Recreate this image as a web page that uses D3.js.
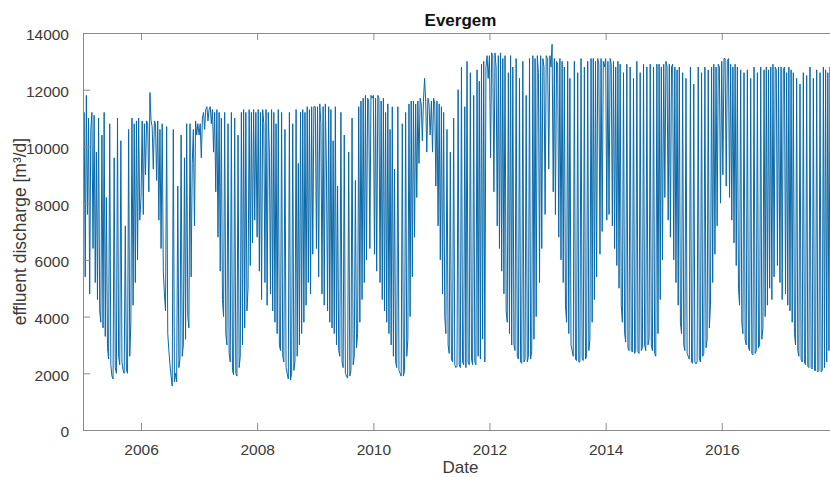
<!DOCTYPE html>
<html>
<head>
<meta charset="utf-8">
<script src="https://cdn.jsdelivr.net/npm/d3@7"></script>
<style>
  html, body { margin: 0; padding: 0; background: #fff; }
  svg { display: block; font-family: "Liberation Sans", Arial, Helvetica, sans-serif; }
</style>
</head>
<body>
<svg id="chart" width="830" height="477"></svg>
<script>
// Weekly effluent discharge at Evergem WWTP [m3/d], one array per calendar year (52 weeks each)
const flow2005 = [6200, 11200, 5400, 11800, 7600, 11000, 4800, 10600, 11200, 6400, 11100, 5200, 9800,
  4600, 11000, 4200, 3800, 10400, 3600, 11200, 3300, 8200,
  2900, 2500, 10800, 2300, 1900, 1800, 9600, 2200, 2000, 11000, 2600, 2300, 10200, 2400, 2100, 2000, 7200, 2100,
  2000, 10600, 2600, 3800, 11000, 4400, 10800, 5200, 10900, 6000, 11000, 7400];
const flow2006 = [8200, 10900, 7600, 10800, 9000, 10900, 10800, 8400, 11900, 10900, 10700, 9200, 10900,
  10800, 8800, 10900, 7400, 10600, 6400, 10800, 5600, 4800,
  4200, 10700, 3400, 2800, 2300, 1900, 1550, 10600, 1700, 2000, 1700, 8600, 2200, 2500, 10400, 2600, 3000, 9600,
  3200, 10800, 4000, 3600, 10800, 5400, 9400, 10600, 7200, 10900, 10400, 10800];
const flow2007 = [10400, 10800, 9600, 11000, 11200, 10600, 11300, 11400, 10900, 11300, 11400, 10800, 11300,
  9800, 11200, 8400, 11300, 6800, 11200, 5600, 11000, 4600,
  4000, 11200, 3400, 3000, 10800, 2700, 2400, 11200, 2100, 1950, 11000, 2000, 1900, 10400, 2200, 2600, 11200, 3000,
  11300, 3600, 11200, 4200, 5000, 11300, 5800, 11200, 6600, 11300, 7400, 11200];
const flow2008 = [6800, 11300, 5600, 11200, 4600, 11300, 10800, 5200, 11300, 4400, 11200, 9800, 4800,
  11300, 4200, 11200, 3800, 10800, 3400, 11300, 3000, 2800,
  11200, 2600, 2400, 10600, 2200, 2000, 1800, 11200, 1760, 2000, 10800, 2100, 2400, 11300, 2600, 9400, 3000, 11200,
  3400, 11300, 3800, 11200, 4400, 11400, 5200, 11300, 4800, 11400, 6200, 11400];
const flow2009 = [11400, 6400, 11400, 5400, 11500, 10800, 4800, 11400, 4400, 11500, 9200, 4200, 11400,
  3800, 11300, 3600, 10200, 3400, 11400, 3000, 8600, 2800,
  2600, 11200, 2400, 2200, 10400, 2000, 1900, 1830, 9800, 1900, 2100, 11000, 2300, 2600, 8800, 2900, 3400, 11400,
  3800, 11600, 4600, 11700, 5200, 11800, 6000, 11700, 11600, 6400, 11800, 11700];
const flow2010 = [11800, 6200, 11700, 5600, 11800, 11700, 5200, 11600, 4600, 11700, 4200, 11200, 3800,
  11500, 3400, 10600, 3000, 11400, 2600, 9200, 2400, 2200,
  11400, 2100, 2000, 1900, 10800, 1900, 2100, 11200, 2600, 3200, 11500, 4000, 11600, 5400, 11600, 6800, 11500, 8200,
  11600, 9400, 11700, 11500, 10200, 11600, 12400, 11600, 9800, 11700, 11500, 10400];
const flow2011 = [11600, 9800, 11700, 11500, 8600, 11600, 7200, 11500, 6000, 11400, 4800, 11200, 4000,
  3400, 10600, 3000, 2700, 9800, 2500, 2400, 11000, 2300,
  2200, 2250, 12000, 2300, 2200, 12800, 2400, 2300, 11400, 2200, 13000, 2400, 2300, 12600, 2500, 2300, 11800, 2400,
  2300, 12700, 2600, 12300, 2500, 12900, 3200, 13000, 2400, 12800, 13200, 12400];
const flow2012 = [13200, 9600, 13300, 13200, 8400, 13300, 12800, 7200, 13200, 6400, 13300, 5600, 13100,
  4800, 13200, 4200, 3800, 12600, 3400, 13200, 3000, 12800,
  3000, 2800, 13100, 2600, 2500, 12400, 2400, 2350, 13000, 2400, 2500, 11800, 2400, 2600, 13100, 2500, 2800, 13200,
  3200, 13100, 4000, 13200, 12600, 5200, 13200, 6400, 13100, 12800, 7600, 13200];
const flow2013 = [13100, 9200, 13200, 12800, 13600, 8400, 13100, 7600, 13000, 12900, 6800, 13100, 6000,
  13000, 5200, 12800, 4400, 3800, 13000, 3400, 12400, 3000,
  2800, 2600, 13000, 2500, 2450, 12600, 2400, 2400, 13100, 2500, 2450, 12800, 2500, 2600, 13000, 2800, 3200, 13100,
  3800, 13100, 4600, 13000, 5400, 13100, 12900, 6200, 13100, 7000, 13000, 12800];
const flow2014 = [13100, 7400, 13000, 7600, 13100, 12900, 7200, 13000, 6400, 12800, 5800, 13000, 5000,
  12900, 4400, 3800, 12600, 3400, 3100, 12900, 2900, 2800,
  12800, 2800, 2750, 12400, 2700, 2800, 13000, 2750, 2700, 12600, 2800, 2900, 12900, 3000, 2800, 12800, 3000, 3200,
  12900, 3000, 2800, 12800, 2700, 2600, 12900, 3400, 12900, 4600, 12800, 6000];
const flow2015 = [12900, 8200, 13000, 12800, 7400, 12900, 6800, 12800, 12900, 6000, 12800, 5200, 12700,
  4400, 12800, 3800, 3400, 12600, 3000, 2800, 12400, 2700,
  2600, 2500, 12800, 2400, 2350, 12200, 2400, 2330, 2400, 12800, 2500, 2400, 12600, 2600, 2700, 12800, 2900, 3200,
  12700, 3600, 4400, 12800, 5200, 12900, 6200, 12800, 7200, 12900, 12800, 8000];
const flow2016 = [13000, 9000, 13100, 13100, 8600, 13000, 13100, 8200, 12900, 7400, 12800, 6600, 12900,
  5800, 12800, 5000, 4400, 12700, 3800, 3400, 12600, 3200,
  3000, 12700, 2900, 2800, 12400, 2700, 2650, 12800, 2700, 2800, 12600, 2900, 3000, 12800, 3200, 3600, 12700, 4000,
  12800, 4400, 12700, 5000, 12800, 4600, 12900, 5400, 12800, 12700, 5800, 12800];
const flow2017 = [5200, 12800, 4600, 12700, 12800, 4800, 12600, 4400, 12800, 4200, 12700, 3800, 12600,
  3400, 3000, 12400, 2800, 2600, 12200, 2500, 2400, 12600,
  2400, 2300, 12500, 2250, 2200, 12800, 2200, 2150, 12400, 2100, 2100, 12700, 2050, 2100, 12600, 2050, 2100, 12800,
  2200, 12700, 2400, 12600, 2800, 12800, 3400, 12700, 4200, 12800, 5000, 12700];

const years = [2005, 2006, 2007, 2008, 2009, 2010, 2011, 2012, 2013, 2014, 2015, 2016, 2017];
const yearlyFlow = [flow2005, flow2006, flow2007, flow2008, flow2009, flow2010, flow2011,
  flow2012, flow2013, flow2014, flow2015, flow2016, flow2017];

const xTickYears = [2006, 2008, 2010, 2012, 2014, 2016];
const yTicks = [0, 2000, 4000, 6000, 8000, 10000, 12000, 14000];

// Flatten into dated weekly samples
const series = [];
years.forEach((yr, k) => {
  yearlyFlow[k].forEach((v, w) => series.push({ date: new Date(yr, 0, 1 + 7 * w), value: v }));
});

const svg = d3.select("#chart");
const margin = { left: 83, top: 33, right: 838, bottom: 430 };

const x = d3.scaleTime()
  .domain([new Date(2005, 0, 1), new Date(2018, 0, 1)])
  .range([margin.left, margin.right]);
const y = d3.scaleLinear().domain([0, 14000]).range([margin.bottom, margin.top]);

const axisColor = "#8c8c8c";
const textColor = "#3a3a3a";

svg.append("clipPath").attr("id", "plot-clip")
  .append("rect")
  .attr("x", margin.left).attr("y", margin.top)
  .attr("width", margin.right - margin.left).attr("height", margin.bottom - margin.top);

// Discharge trace
const line = d3.line().x(d => x(d.date)).y(d => y(d.value));
svg.append("path")
  .datum(series)
  .attr("clip-path", "url(#plot-clip)")
  .attr("fill", "none")
  .attr("stroke", "#0868a8")
  .attr("stroke-width", 1)
  .attr("stroke-linejoin", "bevel")
  .attr("d", line);

// Axes (inward ticks, box on top)
const tickLen = 7;
const xTickDates = xTickYears.map(yr => new Date(yr, 0, 1));

const xAxisBottom = svg.append("g").attr("transform", `translate(0,${margin.bottom})`)
  .call(d3.axisBottom(x).tickValues(xTickDates).tickFormat(d3.timeFormat("%Y"))
    .tickSizeInner(-tickLen).tickSizeOuter(0).tickPadding(14));
const xAxisTop = svg.append("g").attr("transform", `translate(0,${margin.top})`)
  .call(d3.axisTop(x).tickValues(xTickDates).tickFormat("")
    .tickSizeInner(-tickLen).tickSizeOuter(0));
const yAxis = svg.append("g").attr("transform", `translate(${margin.left},0)`)
  .call(d3.axisLeft(y).tickValues(yTicks).tickFormat(d3.format("d"))
    .tickSizeInner(-tickLen).tickSizeOuter(0).tickPadding(14));

[xAxisBottom, xAxisTop, yAxis].forEach(g => {
  g.select(".domain").attr("stroke", axisColor).attr("stroke-width", 1);
  g.selectAll(".tick line").attr("stroke", axisColor).attr("stroke-width", 1);
  g.selectAll(".tick text").attr("fill", textColor).attr("font-size", "15.5px")
    .attr("font-family", "'Liberation Sans', Arial, sans-serif");
});
yAxis.selectAll(".tick text").attr("dy", "0.45em");
xAxisBottom.selectAll(".tick text").attr("dy", "0.72em");

// Title and axis labels
svg.append("text")
  .attr("x", (margin.left + margin.right) / 2).attr("y", 26)
  .attr("text-anchor", "middle").attr("font-size", "17px").attr("font-weight", "bold")
  .attr("fill", "#111").text("Evergem");

svg.append("text")
  .attr("x", (margin.left + margin.right) / 2).attr("y", 473)
  .attr("text-anchor", "middle").attr("font-size", "17px")
  .attr("fill", textColor).text("Date");

svg.append("text")
  .attr("transform", `translate(26,${(margin.top + margin.bottom) / 2}) rotate(-90)`)
  .attr("text-anchor", "middle").attr("font-size", "17.5px")
  .attr("fill", textColor).text("effluent discharge [m³/d]");
</script>
</body>
</html>
